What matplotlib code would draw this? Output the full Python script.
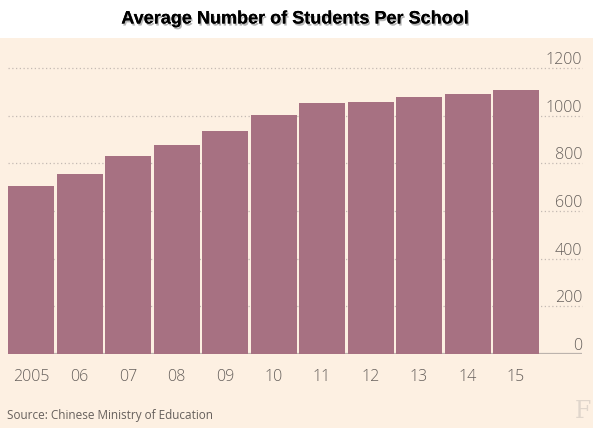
import matplotlib.pyplot as plt
import matplotlib.patheffects as pe
from matplotlib.patches import Rectangle

# Data
years = ["2005", "06", "07", "08", "09", "10", "11", "12", "13", "14", "15"]
students = [706, 755, 829, 879, 936, 1001, 1053, 1056, 1077, 1091, 1109]
y_ticks = [0, 200, 400, 600, 800, 1000, 1200]

pink = "#fdf0e2"
bar_color = "#a77182"
text_grey = "#66605c"

W, H = 593, 428
fig = plt.figure(figsize=(W / 100, H / 100), dpi=100, facecolor=pink)

# white strip behind the title
fig.patches.append(Rectangle((0, 1 - 38 / H), 1, 38 / H, transform=fig.transFigure,
                             facecolor="white", edgecolor="none", zorder=0))

fig.text(0.497, 1 - 19 / H, "Average Number of Students Per School",
         ha="center", va="center", fontsize=13, fontweight="bold",
         family="Liberation Sans", color="black",
         path_effects=[pe.withSimplePatchShadow(offset=(1, -1.5), shadow_rgbFace="#888888", alpha=0.6),
                       pe.Normal()])

ax = fig.add_axes([8 / W, (H - 354) / H, (582 - 8) / W, (354 - 68) / H])
ax.set_facecolor(pink)

x = list(range(len(years)))
ax.bar(x, students, width=0.95, color=bar_color, zorder=2)

ax.set_xlim(-0.475, (582 - 8) / 48.5 - 0.475)
ax.set_ylim(0, 1200)

for v in y_ticks[1:]:
    ax.axhline(v, color="#c4bab3", lw=0.9, ls=(0, (1, 2)), zorder=1, clip_on=False)
ax.axhline(0, color="#bcb3ad", lw=1.6, zorder=1)

for v in y_ticks:
    ax.text(1.0, v + 17, str(v), transform=ax.get_yaxis_transform(),
            ha="right", va="baseline", fontsize=11.5, color=text_grey,
            family="Open Sans", fontweight="light", clip_on=False)

for s in ax.spines.values():
    s.set_visible(False)
ax.set_yticks([])
ax.set_xticks(x)
ax.set_xticklabels(years, fontsize=11.5, color=text_grey, family="Open Sans", fontweight="light")
ax.tick_params(axis="x", length=0, pad=11)

fig.text(7 / W, 1 - 415 / H, "Source: Chinese Ministry of Education",
         ha="left", va="center", fontsize=8.5, color=text_grey, family="Open Sans")
fig.text(583 / W, 1 - 412 / H, "F", ha="center", va="center", fontsize=17,
         color="#e0d6cc", family="DejaVu Serif")

fig.savefig("out.png", dpi=100, facecolor=pink)
